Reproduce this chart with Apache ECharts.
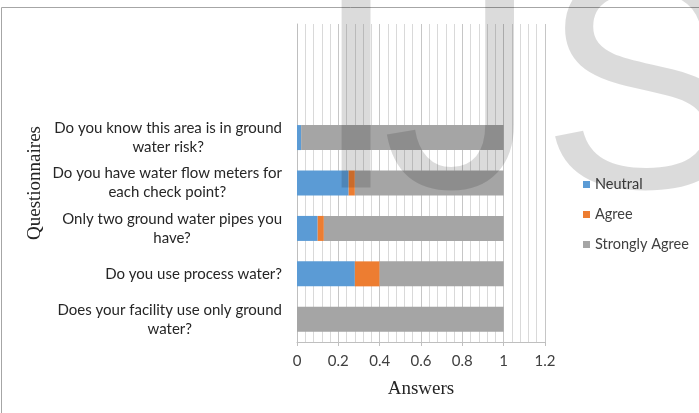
<!DOCTYPE html>
<html>
<head>
<meta charset="utf-8">
<script src="https://cdn.jsdelivr.net/npm/echarts@6/dist/echarts.min.js"></script>
<style>
html,body{margin:0;padding:0;background:#fff;}
#chart{width:699px;height:413px;}
</style>
</head>
<body>
<div id="chart"></div>
<script>
const categories = [
  'Does your facility use only ground\nwater?',
  'Do you use process water?',
  'Only two ground water pipes you\nhave?',
  'Do you have water flow meters for\neach check point?',
  'Do you know this area is in ground\nwater risk?',
  '',
  ''
];
const seriesNames = ['Neutral', 'Agree', 'Strongly Agree'];
const neutral = [0, 0.28, 0.10, 0.25, 0.02];
const agree = [0, 0.12, 0.03, 0.03, 0];
const stronglyAgree = [1, 0.60, 0.87, 0.72, 0.98];
const xTicks = [0, 0.2, 0.4, 0.6, 0.8, 1, 1.2];
const watermark = ['I', 'J', 'S'];

const colors = ['#5b9bd5', '#ed7d31', '#a5a5a5'];
const labelFont = 'Lato, "Open Sans", sans-serif';
const chart = echarts.init(document.getElementById('chart'));
const values = [neutral, agree, stronglyAgree];
const wmFont = '310px "Liberation Sans", Arial, sans-serif';
const wmFill = 'rgba(0,0,0,0.14)';

chart.setOption({
  animation: false,
  color: colors,
  grid: { left: 297, right: 154, top: 24, bottom: 71, containLabel: false },
  legend: {
    orient: 'vertical',
    left: 578,
    top: 171,
    icon: 'rect',
    itemWidth: 7,
    itemHeight: 7,
    itemGap: 13,
    data: seriesNames,
    textStyle: { fontFamily: labelFont, fontSize: 14.5, color: '#404040', lineHeight: 17 }
  },
  xAxis: {
    type: 'value',
    min: xTicks[0],
    max: xTicks[xTicks.length - 1],
    interval: 0.2,
    name: 'Answers',
    nameLocation: 'middle',
    nameGap: 38,
    nameTextStyle: { fontFamily: '"Liberation Serif", serif', fontSize: 19, color: '#262626' },
    axisLine: { show: true, lineStyle: { color: '#bfbfbf' } },
    axisTick: { show: true, length: 4, lineStyle: { color: '#bfbfbf' } },
    axisLabel: {
      margin: 12,
      fontFamily: labelFont, fontSize: 15, color: '#404040',
      formatter: v => String(+v.toFixed(1))
    },
    splitLine: { show: true, lineStyle: { color: '#c6c6c6' } },
    minorTick: { show: false, splitNumber: 5 },
    minorSplitLine: { show: true, lineStyle: { color: '#d9d9d9' } }
  },
  yAxis: {
    type: 'category',
    data: categories,
    name: 'Questionnaires',
    nameLocation: 'middle',
    nameRotate: 90,
    nameGap: 252,
    nameTextStyle: { fontFamily: '"Liberation Serif", serif', fontSize: 19, color: '#262626' },
    axisLine: { show: true, lineStyle: { color: '#bfbfbf' } },
    axisTick: { show: false },
    splitLine: { show: false },
    axisLabel: {
      margin: 15,
      align: 'right',
      lineHeight: 19,
      fontFamily: labelFont, fontSize: 15, color: '#262626',
      formatter: v => v.split('\n').map(s => '{c|' + s + '}').join('\n'),
      rich: { c: { align: 'center', fontFamily: labelFont, fontSize: 15, color: '#262626', lineHeight: 19 } }
    }
  },
  series: seriesNames.map((n, i) => ({
    name: n,
    type: 'bar',
    stack: 'total',
    barWidth: 25,
    data: values[i],
    itemStyle: { color: colors[i] }
  })),
  graphic: [
    { type: 'rect', z: -10, silent: true, shape: { x: 1.5, y: 7.5, width: 900, height: 600 }, style: { fill: null, stroke: '#a6a6a6', lineWidth: 1 } },
    { type: 'text', z: 100, silent: true, x: 313, y: -53, style: { text: watermark[0], font: wmFont, fill: wmFill, verticalAlign: 'top' } },
    { type: 'text', z: 100, silent: true, x: 382, y: -53, style: { text: watermark[1], font: wmFont, fill: wmFill, verticalAlign: 'top' } },
    { type: 'text', z: 100, silent: true, x: 541, y: -53, style: { text: watermark[2], font: wmFont, fill: wmFill, verticalAlign: 'top' } }
  ]
});
</script>
</body>
</html>
